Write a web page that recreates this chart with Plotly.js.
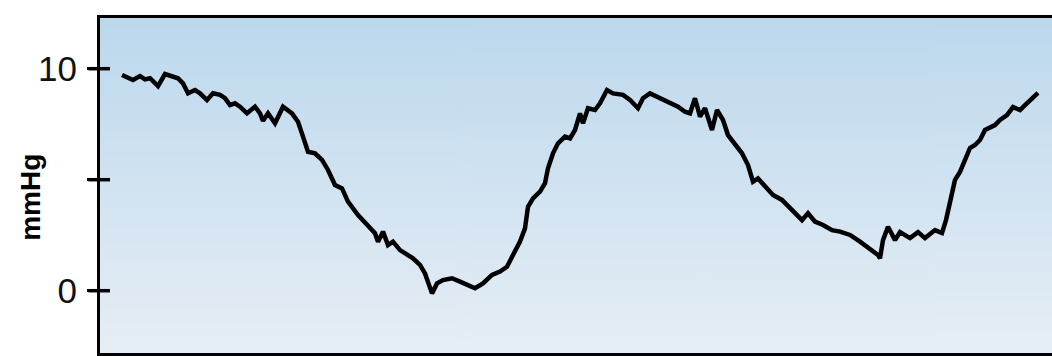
<!DOCTYPE html>
<html>
<head>
<meta charset="utf-8">
<script src="https://cdn.plot.ly/plotly-3.0.1.min.js"></script>
<style>html,body{margin:0;padding:0;background:#fff;}#chart{width:1052px;height:356px;}</style>
</head>
<body>
<div id="chart"></div>
<script>
// time (s) and pressure (mmHg)
const timeS = [0.25,0.30,0.36,0.43,0.48,0.53,0.56,0.61,0.68,0.75,0.81,0.86,0.91,0.98,1.03,1.10,1.16,1.23,1.28,1.33,1.38,1.43,1.50,1.58,1.63,1.66,1.71,1.78,1.86,1.95,2.01,2.06,2.11,2.18,2.25,2.31,2.38,2.45,2.51,2.61,2.70,2.78,2.81,2.86,2.91,2.96,3.03,3.10,3.16,3.23,3.28,3.35,3.40,3.46,3.55,3.63,3.71,3.78,3.86,3.95,4.03,4.10,4.16,4.23,4.28,4.31,4.36,4.43,4.48,4.51,4.56,4.61,4.68,4.73,4.78,4.83,4.86,4.91,4.98,5.03,5.10,5.16,5.26,5.33,5.41,5.46,5.53,5.63,5.73,5.81,5.88,5.93,5.98,6.03,6.08,6.15,6.20,6.26,6.31,6.38,6.45,6.51,6.56,6.61,6.70,6.76,6.85,6.93,7.05,7.11,7.18,7.26,7.35,7.43,7.53,7.63,7.73,7.81,7.83,7.86,7.91,7.98,8.03,8.13,8.21,8.28,8.38,8.45,8.49,8.53,8.58,8.63,8.68,8.73,8.78,8.83,8.88,8.93,8.98,9.03,9.10,9.16,9.23,9.28,9.33,9.38,9.41];
const pressure = [9.72,9.64,9.49,9.67,9.52,9.57,9.46,9.22,9.76,9.67,9.57,9.34,8.89,9.04,8.89,8.59,8.89,8.82,8.67,8.36,8.44,8.29,7.99,8.29,7.99,7.65,7.99,7.54,8.29,7.99,7.61,6.94,6.26,6.19,5.89,5.44,4.76,4.61,4.01,3.41,2.96,2.59,2.21,2.66,2.06,2.21,1.83,1.61,1.46,1.16,0.78,-0.12,0.33,0.48,0.56,0.41,0.26,0.11,0.33,0.71,0.86,1.08,1.61,2.21,2.81,3.78,4.16,4.46,4.84,5.51,6.19,6.64,6.94,6.86,7.24,7.99,7.54,8.22,8.14,8.44,9.04,8.89,8.82,8.59,8.22,8.67,8.89,8.67,8.44,8.29,8.06,7.99,8.67,7.84,8.22,7.24,8.14,7.69,7.01,6.56,6.19,5.66,4.91,5.06,4.61,4.31,4.09,3.71,3.18,3.49,3.11,2.96,2.73,2.66,2.51,2.21,1.91,1.61,1.46,2.28,2.88,2.28,2.64,2.37,2.64,2.37,2.73,2.60,3.18,4.09,4.99,5.35,5.89,6.43,6.56,6.79,7.24,7.33,7.46,7.69,7.91,8.27,8.14,8.36,8.59,8.82,8.91];
const yTickVals = [0, 5, 10];
const yTickText = ['0', '', '10'];
const yTitle = 'mmHg';
const xRange = [0.03, 9.55];
const yRange = [-2.806, 12.284];
const bgBottom = 'rgb(230,238,245)';
const bgTop = 'rgb(188,216,237)';

// vertical gradient image for the plot background
const cv = document.createElement('canvas');
cv.width = 4; cv.height = 256;
const ctx = cv.getContext('2d');
const grd = ctx.createLinearGradient(0, 0, 0, 256);
grd.addColorStop(0, bgTop); grd.addColorStop(1, bgBottom);
ctx.fillStyle = grd; ctx.fillRect(0, 0, 4, 256);
const bgURL = cv.toDataURL('image/png');

const trace = {
  type: 'scatter', mode: 'lines',
  x: timeS, y: pressure,
  line: {color: '#000', width: 4.5},
  hoverinfo: 'skip'
};

// tick marks crossing the axis line, as in the original
const tickShapes = yTickVals.map(v => ({
  type: 'line', xref: 'paper', yref: 'y', x0: -0.012, x1: 0.0105, y0: v, y1: v,
  line: {color: '#000', width: 3.5}, layer: 'above'
}));

const layout = {
  width: 1052, height: 356,
  margin: {l: 100, r: 0, t: 18, b: 3},
  paper_bgcolor: '#fff', plot_bgcolor: 'rgba(0,0,0,0)',
  showlegend: false,
  font: {family: 'Liberation Sans, Arial, sans-serif', color: '#000'},
  images: [{source: bgURL, xref: 'paper', yref: 'paper', x: 0, y: 1, sizex: 1, sizey: 1,
            xanchor: 'left', yanchor: 'top', sizing: 'stretch', layer: 'below'}],
  shapes: tickShapes,
  xaxis: {range: xRange, showline: true, mirror: true, linecolor: '#000', linewidth: 3,
          showgrid: false, zeroline: false, showticklabels: false, ticks: ''},
  yaxis: {range: yRange, showline: true, linecolor: '#000', linewidth: 3,
          showgrid: false, zeroline: false, tickmode: 'array', tickvals: yTickVals, ticktext: yTickText,
          ticks: 'outside', ticklen: 10, tickwidth: 3, tickcolor: '#000',
          tickfont: {size: 35, color: '#111'}, ticklabelstandoff: 3},
  annotations: [{
    text: yTitle, textangle: -90, showarrow: false,
    xref: 'paper', yref: 'paper', x: -0.0725, y: 0.466, xanchor: 'center', yanchor: 'middle',
    font: {size: 28, color: '#000', weight: 'bold'}
  }]
};
Plotly.newPlot('chart', [trace], layout, {staticPlot: true, displayModeBar: false});
</script>
</body>
</html>
